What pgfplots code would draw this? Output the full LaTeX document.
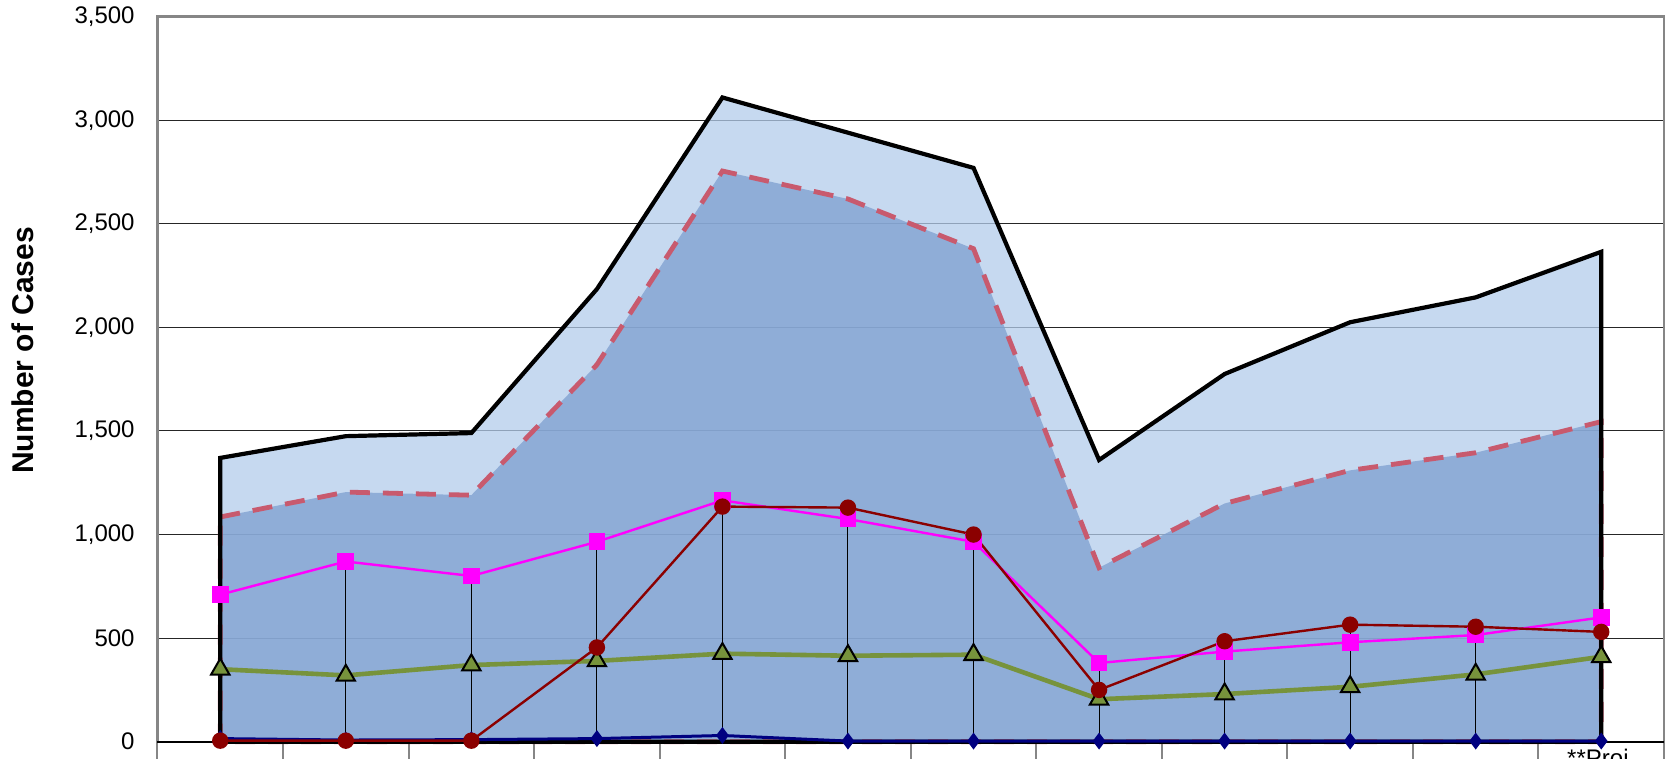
\documentclass[border=0pt]{standalone}
\usepackage{fontspec}
\setmainfont{Liberation Sans}
\usepackage{pgfplots}
\usepackage{pgfplotstable}
\pgfplotsset{compat=1.18}
\definecolor{outerfill}{RGB}{179,204,235}
\definecolor{innerfill}{RGB}{125,158,207}
\definecolor{dashred}{RGB}{200,90,110}
\definecolor{olivegreen}{RGB}{119,147,60}
\definecolor{darkred}{RGB}{139,0,0}
\definecolor{navyblue}{RGB}{0,0,128}
\definecolor{axisgray}{RGB}{134,134,134}
\definecolor{pinkmag}{RGB}{255,0,255}

\pgfplotstableread{
x outer inner mag red green blue
0 1370 1085 710 5 350 15
1 1475 1205 870 5 320 8
2 1490 1190 800 5 370 10
3 2185 1820 965 455 390 15
4 3110 2755 1165 1135 425 30
5 2940 2620 1075 1130 415 3
6 2770 2380 965 1000 420 3
7 1360 840 380 250 205 3
8 1775 1150 435 485 230 3
9 2025 1310 480 565 265 3
10 2145 1395 515 555 325 3
11 2365 1545 600 530 410 3
}\data

\begin{document}
\begin{tikzpicture}
\begin{axis}[name=ax, scale only axis, width=753.25pt, height=362.5pt,
  xmin=-0.5, xmax=11.5, ymin=0, ymax=3500,
  clip=false,
  ytick={0,500,...,3500},
  xtick={-0.5,0.5,...,11.5}, xticklabels={},
  xtick pos=bottom, ytick pos=left,
  ytick style={draw=none},
  x tick style={axisgray, line width=1pt},
  tick align=outside, major tick length=9pt,
  ymajorgrids, grid style={black!85, line width=0.5pt},
  axis line style={axisgray, line width=1.2pt},
  yticklabel style={font=\fontsize{12}{14}\selectfont, anchor=east, inner sep=0pt, xshift=-2.25pt},
  /pgf/number format/1000 sep={,},
  /pgf/number format/assume math mode=true,
  ylabel={Number of Cases},
  every axis y label/.style={at={(rel axis cs:-0.0891,0.5396)}, rotate=90, anchor=center, font=\bfseries\fontsize{15}{18}\selectfont},
]
\addplot[draw=none, fill=outerfill, fill opacity=0.75] table[x=x,y=outer] {\data} \closedcycle;
\addplot[draw=dashred, line width=2.4pt, dash pattern=on 10pt off 6.5pt, fill=innerfill, fill opacity=0.75] table[x=x,y=inner] {\data} \closedcycle;
\draw[black, line width=1pt] (rel axis cs:0,0) -- (rel axis cs:1,0);
\addplot[draw=black, line width=2.1pt, fill=none] table[x=x,y=outer] {\data} \closedcycle;
\addplot[navyblue, line width=1.5pt, mark=diamond*, mark size=3pt, mark options={fill=navyblue, draw=navyblue, solid}] table[x=x,y=blue] {\data};
\addplot[olivegreen, line width=2.3pt, mark=triangle*, mark size=5.3pt, mark options={fill=olivegreen, draw=black, line width=1pt, solid}] table[x=x,y=green] {\data};
\addplot[ycomb, black, line width=0.5pt, mark=none] table[x=x,y=mag] {\data};
\addplot[ycomb, black, line width=0.5pt, mark=none] table[x=x,y=red] {\data};
\addplot[pinkmag, line width=1.2pt, mark=square*, mark size=3.6pt, mark options={fill=pinkmag, draw=pinkmag, solid}] table[x=x,y=mag] {\data};
\addplot[darkred, line width=1.2pt, mark=*, mark size=3.5pt, mark options={fill=darkred, draw=darkred, solid}] table[x=x,y=red] {\data};
\node[anchor=north, inner sep=0pt, font=\fontsize{12}{14}\selectfont] at (axis cs:11,0) [yshift=-3.65pt] {**Proj.};
\end{axis}
\pgfresetboundingbox
\path[use as bounding box] ([xshift=-78.75pt,yshift=-8.65pt]ax.south west) rectangle ([xshift=2pt,yshift=8.35pt]ax.north east);
\end{tikzpicture}
\end{document}
